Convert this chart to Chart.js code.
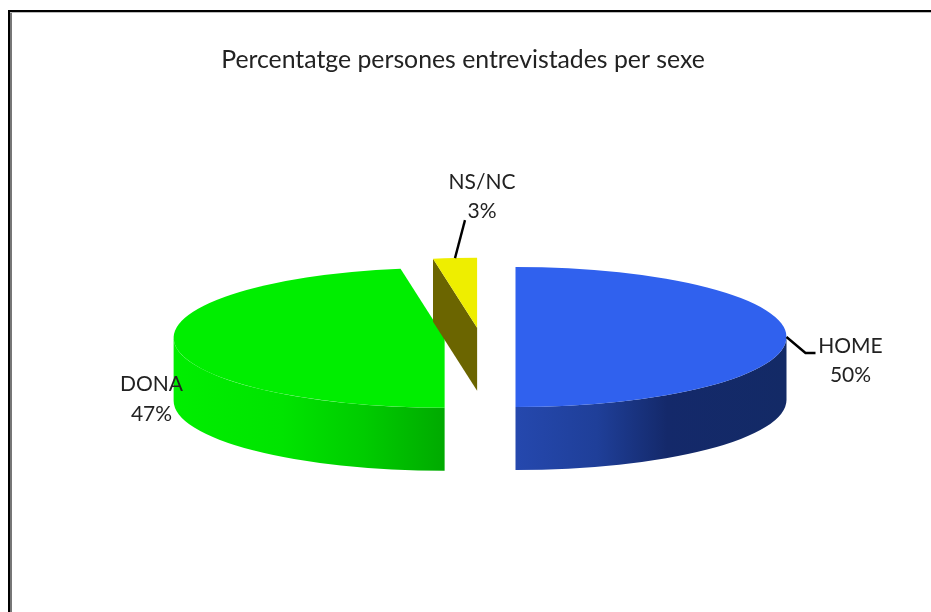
<!DOCTYPE html>
<html>
<head>
<meta charset="utf-8">
<style>
html,body{margin:0;padding:0;background:#fff;overflow:hidden}
#frame{position:absolute;left:8px;top:10px;width:923px;height:602px;box-sizing:border-box;border-left:2px solid #000;border-top:2px solid #000;pointer-events:none}
#frame:before{content:"";position:absolute;left:0;top:0;bottom:0;width:2px;background:#777}
#frame:after{content:"";position:absolute;left:0;right:0;top:0;height:1px;background:#bbb}
canvas{position:absolute;left:0;top:0}
</style>
<script src="https://cdn.jsdelivr.net/npm/chart.js@4/dist/chart.umd.js"></script>
</head>
<body>
<canvas id="c" width="931" height="612"></canvas>
<div id="frame"></div>
<script>
const titleText = "Percentatge persones entrevistades per sexe";
const categories = ["HOME", "DONA", "NS/NC"];
const shares = [50, 47.4, 2.6];

const topColors = ["#3061ee", "#00ee00", "#eeee00"];
const sideStops = [
  [[0, "#2548ae"], [0.3, "#1f3f99"], [0.56, "#14296a"], [1, "#132a66"]],
  [[0, "#00ee00"], [0.4, "#00e400"], [0.7, "#00cc00"], [1, "#00aa00"]],
  [[0, "#6b6500"], [1, "#6b6500"]]
];
const cutColor = "#6b6500";

const PIE = {cx: 480, cy: 337, radius: 271, squash: 0.2583, depth: 63, explode: 35.5};
const LABEL_FONT = '21px Lato, "Open Sans", sans-serif';
const LINE_GAP = 29.5;
// label centre relative to the slice's rim anchor, plus optional leader bend
const labelPlacement = [
  {dx: 64, dy: 9, leader: [[19, 16], [29, 16]]},
  {dx: -23, dy: 41, leader: null},
  {dx: 27, dy: -76, leader: [[10, -38]]}
];

function sliceGeom(chart, arc) {
  const mid = (arc.startAngle + arc.endAngle) / 2;
  const ex = Math.cos(mid) * PIE.explode, ey = Math.sin(mid) * PIE.explode;
  const a = chart.chartArea, mx = (a.left + a.right) / 2, my = (a.top + a.bottom) / 2;
  return {
    ex, ey, mid, mx, my,
    c: {x: arc.x + ex - mx + PIE.cx, y: PIE.cy + (arc.y + ey - my) * PIE.squash},
    a: arc.outerRadius,
    b: arc.outerRadius * PIE.squash
  };
}

const pie3d = {
  id: "pie3d",
  beforeDatasetDraw(chart) {
    const ctx = chart.ctx, arcs = chart.getDatasetMeta(0).data;
    arcs.forEach((arc, i) => {
      const g = sliceGeom(chart, arc);
      const s = arc.startAngle, e = arc.endAngle, d = PIE.depth;
      // radial cut faces that look toward the viewer
      [[s, s - Math.PI / 2], [e, e + Math.PI / 2]].forEach(([ang, normal]) => {
        if (Math.sin(normal) > 0.01) {
          const px = g.c.x + g.a * Math.cos(ang), py = g.c.y + g.b * Math.sin(ang);
          ctx.beginPath();
          ctx.moveTo(g.c.x, g.c.y);
          ctx.lineTo(px, py);
          ctx.lineTo(px, py + d);
          ctx.lineTo(g.c.x, g.c.y + d);
          ctx.closePath();
          ctx.fillStyle = cutColor;
          ctx.fill();
        }
      });
      // outer rim, front half only
      [-2, 0, 2].forEach(k => {
        const lo = Math.max(s, k * Math.PI), hi = Math.min(e, (k + 1) * Math.PI);
        if (hi <= lo) return;
        const x0 = g.c.x + g.a * Math.cos(lo), x1 = g.c.x + g.a * Math.cos(hi);
        const grad = ctx.createLinearGradient(Math.min(x0, x1), 0, Math.max(x0, x1), 0);
        sideStops[i].forEach(([t, col]) => grad.addColorStop(t, col));
        ctx.beginPath();
        ctx.ellipse(g.c.x, g.c.y, g.a, g.b, 0, lo, hi);
        ctx.ellipse(g.c.x, g.c.y + d, g.a, g.b, 0, hi, lo, true);
        ctx.closePath();
        ctx.fillStyle = grad;
        ctx.fill();
      });
      // top face: the library's own arc element, moved out and flattened
      ctx.save();
      ctx.translate(PIE.cx - g.mx + g.ex, PIE.cy + g.ey * PIE.squash);
      ctx.scale(1, PIE.squash);
      ctx.translate(0, -g.my);
      arc.draw(ctx);
      ctx.restore();
    });
    return false;
  },
  afterDraw(chart) {
    const ctx = chart.ctx, arcs = chart.getDatasetMeta(0).data;
    const total = shares.reduce((p, v) => p + v, 0);
    ctx.save();
    ctx.font = LABEL_FONT;
    ctx.textAlign = "center";
    ctx.textBaseline = "middle";
    arcs.forEach((arc, i) => {
      const g = sliceGeom(chart, arc), place = labelPlacement[i];
      const ax = g.c.x + g.a * Math.cos(g.mid), ay = g.c.y + g.b * Math.sin(g.mid);
      if (place.leader) {
        ctx.beginPath();
        ctx.moveTo(ax, ay);
        place.leader.forEach(([dx, dy]) => ctx.lineTo(ax + dx, ay + dy));
        ctx.strokeStyle = "#000";
        ctx.lineWidth = 2.4;
        ctx.stroke();
      }
      ctx.fillStyle = "#222";
      const tx = ax + place.dx, ty = ay + place.dy;
      ctx.fillText(categories[i], tx, ty);
      ctx.fillText(Math.round(shares[i] / total * 100) + "%", tx, ty + LINE_GAP);
    });
    ctx.restore();
  }
};

new Chart(document.getElementById("c"), {
  type: "pie",
  data: {
    labels: categories,
    datasets: [{
      data: shares,
      backgroundColor: topColors,
      borderWidth: 0,
      radius: PIE.radius,
      clip: false
    }]
  },
  options: {
    responsive: false,
    animation: false,
    events: [],
    layout: {padding: {left: 10, right: 15, top: 0, bottom: 0}},
    plugins: {
      legend: {display: false},
      tooltip: {enabled: false},
      title: {
        display: true,
        text: titleText,
        color: "#222",
        font: {family: 'Lato, "Open Sans", sans-serif', size: 24.8, weight: "normal"},
        padding: {top: 45, bottom: 10}
      }
    }
  },
  plugins: [pie3d]
});
</script>
</body>
</html>
